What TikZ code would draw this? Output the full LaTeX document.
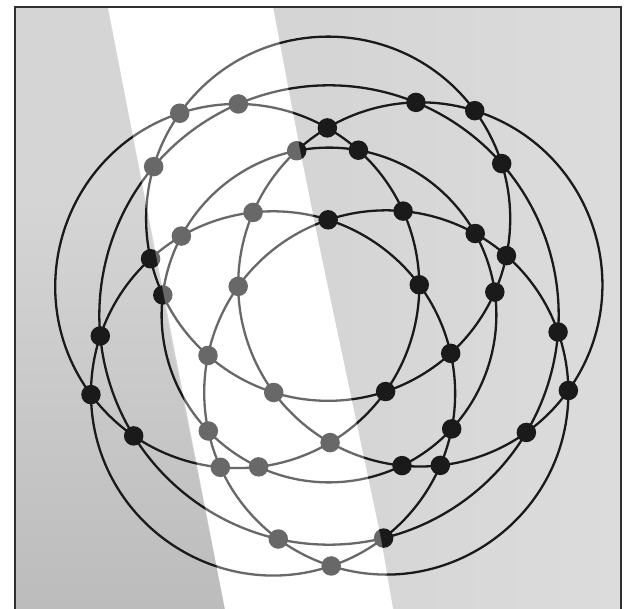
\documentclass[tikz,border=0pt]{standalone}
\pgfdeclarelayer{bg}
\pgfdeclarelayer{edges}
\pgfdeclarelayer{top}
\pgfsetlayers{bg,edges,main,top}
\definecolor{ink}{HTML}{1A1A1A}
\definecolor{paper}{HTML}{D5D5D5}
\definecolor{paperdark}{HTML}{BCBCBC}
\definecolor{paperlight}{HTML}{DCDCDC}
\definecolor{framecol}{HTML}{303030}
\begin{document}
\begin{tikzpicture}[x=1pt,y=1pt,
  dot/.style={circle,fill=ink,inner sep=0pt,minimum size=19.5pt},
  ring/.style={draw=ink,line width=2.3pt,line join=round},
  arcb/.code={\pgfmathsetmacro\arcL{0.8514/((cos(#1/2))^2)}%
    \edef\arcdo{\noexpand\pgfkeysalso{bend right=#1,looseness=\arcL}}\arcdo}]
\useasboundingbox (-329,-294) rectangle (300,315);
% background of the scan (pixel coordinates)
\begin{pgfonlayer}{bg}
\begin{scope}[shift={(-329,315)},yscale=-1]
  \fill[white] (0,0) rectangle (629,609);
  \fill[paper] (15,7) rectangle (621,609);
  \shade[left color=paper,right color=paperlight] (330,7) rectangle (621,609);
  \shade[top color=paper,bottom color=paperdark] (15,200) -- (143,200) -- (225,609) -- (15,609) -- cycle;
  \fill[white] (108,7) -- (273,7) -- (300,150) -- (318,240) -- (381,539) -- (393,609) -- (225,609) -- cycle;
  \draw[framecol,line width=1.5pt] (15,609) -- (15,7) -- (621,7) -- (621,609);
\end{scope}
\end{pgfonlayer}
% nodes
\foreach \k in {0,...,4}{
  \pgfmathsetmacro\al{270+72*\k+0.5}
  \node[dot] (A\k) at ({\al}:251) {};
  \node[dot] (P\k) at ({\al-13.26}:229.7) {};
  \node[dot] (Q\k) at ({\al+13.26}:229.7) {};
  \node[dot] (E\k) at ({\al}:127.6) {};
  \node[dot] (C\k) at ({\al+36}:187.1) {};
  \node[dot] (L\k) at ({\al+36-10.63}:167.4) {};
  \node[dot] (M\k) at ({\al+36+10.63}:167.4) {};
  \node[dot] (D\k) at ({\al+36}:95.2) {};
}
% connectors: arcs of the seven circles, node to node
\begin{pgfonlayer}{edges}
\foreach \k in {0,...,4}{
  \pgfmathtruncatemacro\ka{mod(\k+1,5)}
  \pgfmathtruncatemacro\kb{mod(\k+2,5)}
  \pgfmathtruncatemacro\kc{mod(\k+3,5)}
  \pgfmathtruncatemacro\km{mod(\k+4,5)}
  \draw[ring] (D\kc.center) to[arcb=11.95] (E\km.center) to[arcb=11.965] (L\km.center)
    to[arcb=6.035] (C\km.center) to[arcb=14.665] (P\k.center) to[arcb=9.385] (A\k.center)
    to[arcb=54.1] (A\ka.center) to[arcb=9.385] (Q\ka.center) to[arcb=14.665] (C\ka.center)
    to[arcb=6.035] (M\ka.center) to[arcb=11.965] (E\kb.center) to[arcb=11.95] (D\kb.center)
    to[arcb=17.9] (D\kc.center);
  \draw[ring] (P\k.center) to[arcb=13.26] (Q\k.center) to[arcb=22.74] (P\ka.center);
  \draw[ring] (L\k.center) to[arcb=10.63] (M\k.center) to[arcb=25.37] (L\ka.center);
}
\end{pgfonlayer}
% light band of the scan over the drawing
\begin{pgfonlayer}{top}
\begin{scope}[shift={(-329,315)},yscale=-1]
  \fill[white,opacity=0.34] (108,9) -- (273,9) -- (300,150) -- (318,240) -- (381,539) -- (393,609) -- (225,609) -- cycle;
\end{scope}
\end{pgfonlayer}
\end{tikzpicture}
\end{document}
